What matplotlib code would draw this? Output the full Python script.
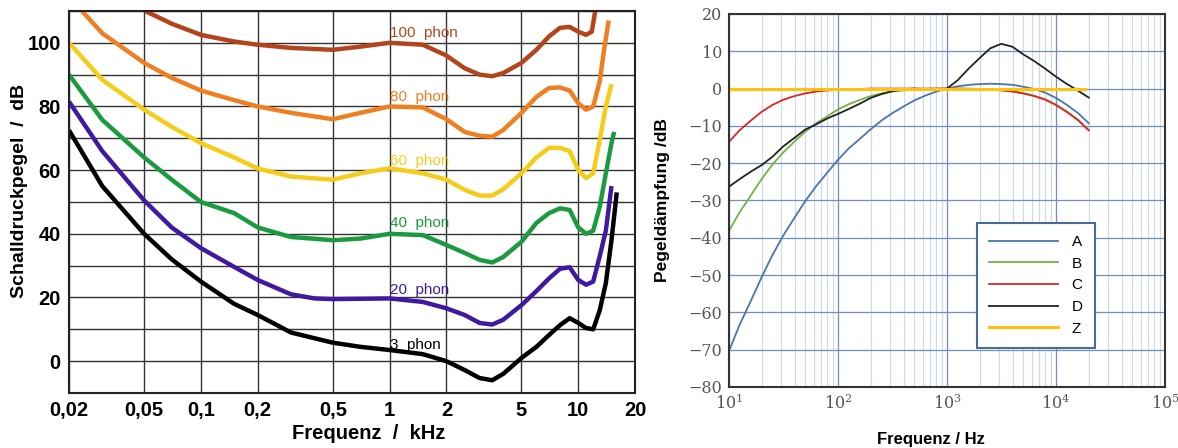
import numpy as np
import matplotlib.pyplot as plt
from matplotlib.ticker import FixedLocator, FixedFormatter, NullFormatter, LogLocator

plt.rcParams['font.family'] = ['Liberation Sans', 'DejaVu Sans']
plt.rcParams['mathtext.fontset'] = 'dejavuserif'

# --- linke Grafik: Kurven gleicher Lautstärke (f in kHz, L in dB) ---
f_3 = [0.02, 0.03, 0.05, 0.07, 0.1, 0.15, 0.2, 0.3, 0.5, 0.7, 1, 1.5, 2, 2.5, 3, 3.5, 4, 5, 6, 7, 8, 9, 10, 11, 12, 13, 14, 15, 16]
L_3 = [72.5, 55, 40, 32, 25, 18, 14.5, 9, 5.8, 4.5, 3.5, 2.2, 0, -2.8, -5.3, -6, -4, 1, 4.5, 8.2, 11.3, 13.5, 12, 10.4, 10, 16, 24.5, 38, 53]

f_20 = [0.02, 0.03, 0.05, 0.07, 0.1, 0.15, 0.2, 0.3, 0.4, 0.5, 0.7, 1, 1.5, 2, 2.5, 3, 3.5, 4, 5, 6, 7, 8, 9, 10, 11, 12, 13, 14, 15]
L_20 = [81.5, 66, 50.5, 42, 35.5, 29.6, 25.5, 21, 19.7, 19.5, 19.6, 19.7, 18.6, 16.6, 14.5, 12, 11.5, 13, 17.6, 22, 26, 29, 29.5, 25.5, 24, 25, 33, 41, 55]

f_40 = [0.02, 0.03, 0.05, 0.07, 0.1, 0.15, 0.2, 0.3, 0.5, 0.7, 1, 1.5, 2, 2.5, 3, 3.5, 4, 5, 6, 7, 8, 9, 10, 11, 12, 13, 14, 15, 15.5]
L_40 = [90, 75.8, 64, 57, 50, 46.5, 42, 39, 38, 38.5, 40, 39.6, 36.5, 34, 31.8, 31, 32.7, 37.5, 43.4, 46.5, 48, 47.5, 42, 40, 41, 48.5, 59, 68.5, 72]

f_60 = [0.02, 0.03, 0.05, 0.07, 0.1, 0.15, 0.2, 0.3, 0.5, 0.7, 1, 1.5, 2, 2.5, 3, 3.5, 4, 5, 6, 7, 8, 9, 10, 11, 12, 13, 14, 15]
L_60 = [100, 88.4, 79, 73.6, 68.5, 64, 60.5, 58, 57, 59, 60.6, 59, 57, 53.8, 52, 52, 54, 59, 64, 67, 67, 66, 60, 57.5, 59, 69.5, 80, 87]

f_80 = [0.0234, 0.03, 0.05, 0.07, 0.1, 0.15, 0.2, 0.3, 0.5, 0.7, 1, 1.5, 2, 2.5, 3, 3.5, 4, 5, 6, 7, 8, 9, 10, 11, 12, 13, 13.7, 14.5]
L_80 = [110, 103, 93.7, 89, 85, 82, 80, 78, 76, 78, 80, 79.7, 76, 72, 70.8, 70.5, 72.6, 78, 83, 85.8, 86, 85, 81, 79, 80, 88, 97.8, 107]

f_100 = [0.0506, 0.07, 0.1, 0.15, 0.2, 0.3, 0.5, 0.7, 1, 1.5, 2, 2.5, 3, 3.5, 4, 5, 6, 7, 8, 9, 10, 11, 11.8, 12.3]
L_100 = [110, 106, 102.5, 100.4, 99.4, 98.4, 97.8, 98.8, 100, 99.4, 96, 92, 90, 89.5, 90.5, 93.7, 97.8, 102, 104.7, 105, 103.5, 102.5, 103.5, 110]

phon_labels = ['100  phon', '80  phon', '60  phon', '40  phon', '20  phon', '3  phon']
label_y = [103, 83, 63, 43.5, 22.5, 5]
phon_colors = ['#b4441c', '#f07f22', '#f5cc1a', '#1c9a40', '#3f1aa0', '#000000']

x_ticks = [0.02, 0.05, 0.1, 0.2, 0.5, 1, 2, 5, 10, 20]
x_ticklabels = ['0,02', '0,05', '0,1', '0,2', '0,5', '1', '2', '5', '10', '20']

# --- rechte Grafik: Frequenzbewertung (f in Hz, dB) ---
f_w = [10, 12.5, 16, 20, 25, 31.5, 40, 50, 63, 80, 100, 125, 160, 200, 250, 315, 400, 500, 630, 800,
       1000, 1250, 1600, 2000, 2500, 3150, 4000, 5000, 6300, 8000, 10000, 12500, 16000, 20000]
w_A = [-70.4, -63.4, -56.7, -50.5, -44.7, -39.4, -34.6, -30.2, -26.2, -22.5, -19.1, -16.1, -13.4, -10.9, -8.6, -6.6, -4.8, -3.2, -1.9, -0.8,
       0, 0.6, 1.0, 1.2, 1.3, 1.2, 1.0, 0.5, -0.1, -1.1, -2.5, -4.3, -6.6, -9.3]
w_B = [-38.2, -33.2, -28.5, -24.2, -20.4, -17.1, -14.2, -11.6, -9.3, -7.4, -5.6, -4.2, -3.0, -2.0, -1.3, -0.8, -0.5, -0.3, -0.1, 0,
       0, 0, 0, -0.1, -0.2, -0.4, -0.7, -1.2, -1.9, -2.9, -4.3, -6.1, -8.4, -11.1]
w_C = [-14.3, -11.2, -8.5, -6.2, -4.4, -3.0, -2.0, -1.3, -0.8, -0.5, -0.3, -0.2, -0.1, 0, 0, 0, 0, 0, 0, 0,
       0, 0, -0.1, -0.2, -0.3, -0.5, -0.8, -1.3, -2.0, -3.0, -4.4, -6.2, -8.5, -11.2]
w_D = [-26.3, -24.3, -22.2, -20.5, -18.3, -15.5, -13.2, -11, -9.6, -8.0, -6.8, -5.5, -4.0, -2.5, -1.5, -0.7, -0.2, 0, -0.2, -0.3,
       0, 2.2, 5.5, 8.2, 10.8, 12.0, 11.2, 9.2, 7.4, 5.3, 3.2, 1.3, -0.6, -2.4]
f_Z = [10, 18400]
w_Z = [0, 0]

fig = plt.figure(figsize=(11.78, 4.48), dpi=100)

# linke Grafik
ax1 = fig.add_axes([0.0586, 0.1228, 0.4805, 0.8527])
curves = [(f_100, L_100), (f_80, L_80), (f_60, L_60), (f_40, L_40), (f_20, L_20), (f_3, L_3)]
for (f, L), c in zip(curves, phon_colors):
    ax1.plot(f, L, color=c, linewidth=3.2, solid_capstyle='butt', solid_joinstyle='round')
for txt, yy, c in zip(phon_labels, label_y, phon_colors):
    ax1.text(1.0, yy, txt, color=c, fontsize=11, va='center', ha='left')
ax1.set_xscale('log')
ax1.set_xlim(0.02, 20)
ax1.set_ylim(-10, 110)
ax1.xaxis.set_major_locator(FixedLocator(x_ticks))
ax1.xaxis.set_major_formatter(FixedFormatter(x_ticklabels))
ax1.xaxis.set_minor_locator(FixedLocator([]))
ax1.set_yticks(np.arange(-10, 111, 10))
ax1.set_yticklabels(['' if v % 20 or v < 0 else str(v) for v in range(-10, 111, 10)])
ax1.grid(True, which='major', color='#333333', linewidth=1.0)
ax1.tick_params(length=0, labelsize=14.5, pad=6)
for lab in ax1.get_xticklabels() + ax1.get_yticklabels():
    lab.set_fontweight('bold')
for s in ax1.spines.values():
    s.set_linewidth(1.5)
    s.set_color('#222222')
ax1.set_xlabel('Frequenz  /  kHz', fontsize=14.5, fontweight='bold')
ax1.xaxis.set_label_coords(0.53, -0.08)
ax1.set_ylabel('Schalldruckpegel  /  dB', fontsize=14, fontweight='bold')
ax1.yaxis.set_label_coords(-0.072, 0.53)

# rechte Grafik
ax2 = fig.add_axes([0.6188, 0.1362, 0.3701, 0.8326])
ax2.plot(f_w, w_A, color='#4a74b4', linewidth=1.3, label='A')
ax2.plot(f_w, w_B, color='#72b443', linewidth=1.3, label='B')
ax2.plot(f_w, w_C, color='#e02424', linewidth=1.3, label='C')
ax2.plot(f_w, w_D, color='#222222', linewidth=1.3, label='D')
ax2.plot(f_Z, w_Z, color='#ffc20e', linewidth=2.2, label='Z')
ax2.set_xscale('log')
ax2.set_xlim(10, 1e5)
ax2.set_ylim(-80, 20)
ax2.set_yticks(np.arange(-80, 21, 10))
ax2.xaxis.set_minor_locator(LogLocator(base=10, subs=np.arange(2, 10), numticks=20))
ax2.xaxis.set_minor_formatter(NullFormatter())
ax2.grid(True, which='major', color='#6f8fbf', linewidth=0.9)
ax2.grid(True, which='minor', axis='x', color='#cbd9ec', linewidth=0.8)
ax2.tick_params(which='both', length=0, labelsize=11.5, labelcolor='#555555', pad=5)
for lab in ax2.get_xticklabels() + ax2.get_yticklabels():
    lab.set_fontfamily('DejaVu Serif')
for s in ax2.spines.values():
    s.set_linewidth(1.5)
    s.set_color('#333333')
ax2.set_xlabel('Frequenz / Hz', fontsize=12, fontweight='bold')
ax2.xaxis.set_label_coords(0.463, -0.12)
ax2.set_ylabel('Pegeldämpfung /dB', fontsize=12.5, fontweight='bold')
ax2.yaxis.set_label_coords(-0.135, 0.5)
leg = ax2.legend(loc='lower left', bbox_to_anchor=(0.569, 0.105), fontsize=11, frameon=True,
                 fancybox=False, handlelength=4.5, handletextpad=0.9, labelspacing=0.5,
                 borderpad=0.8, borderaxespad=0)
leg.get_frame().set_edgecolor('#4a6a9e')
leg.get_frame().set_linewidth(1.5)
leg.get_frame().set_alpha(1)

fig.savefig('out.png', dpi=100)
